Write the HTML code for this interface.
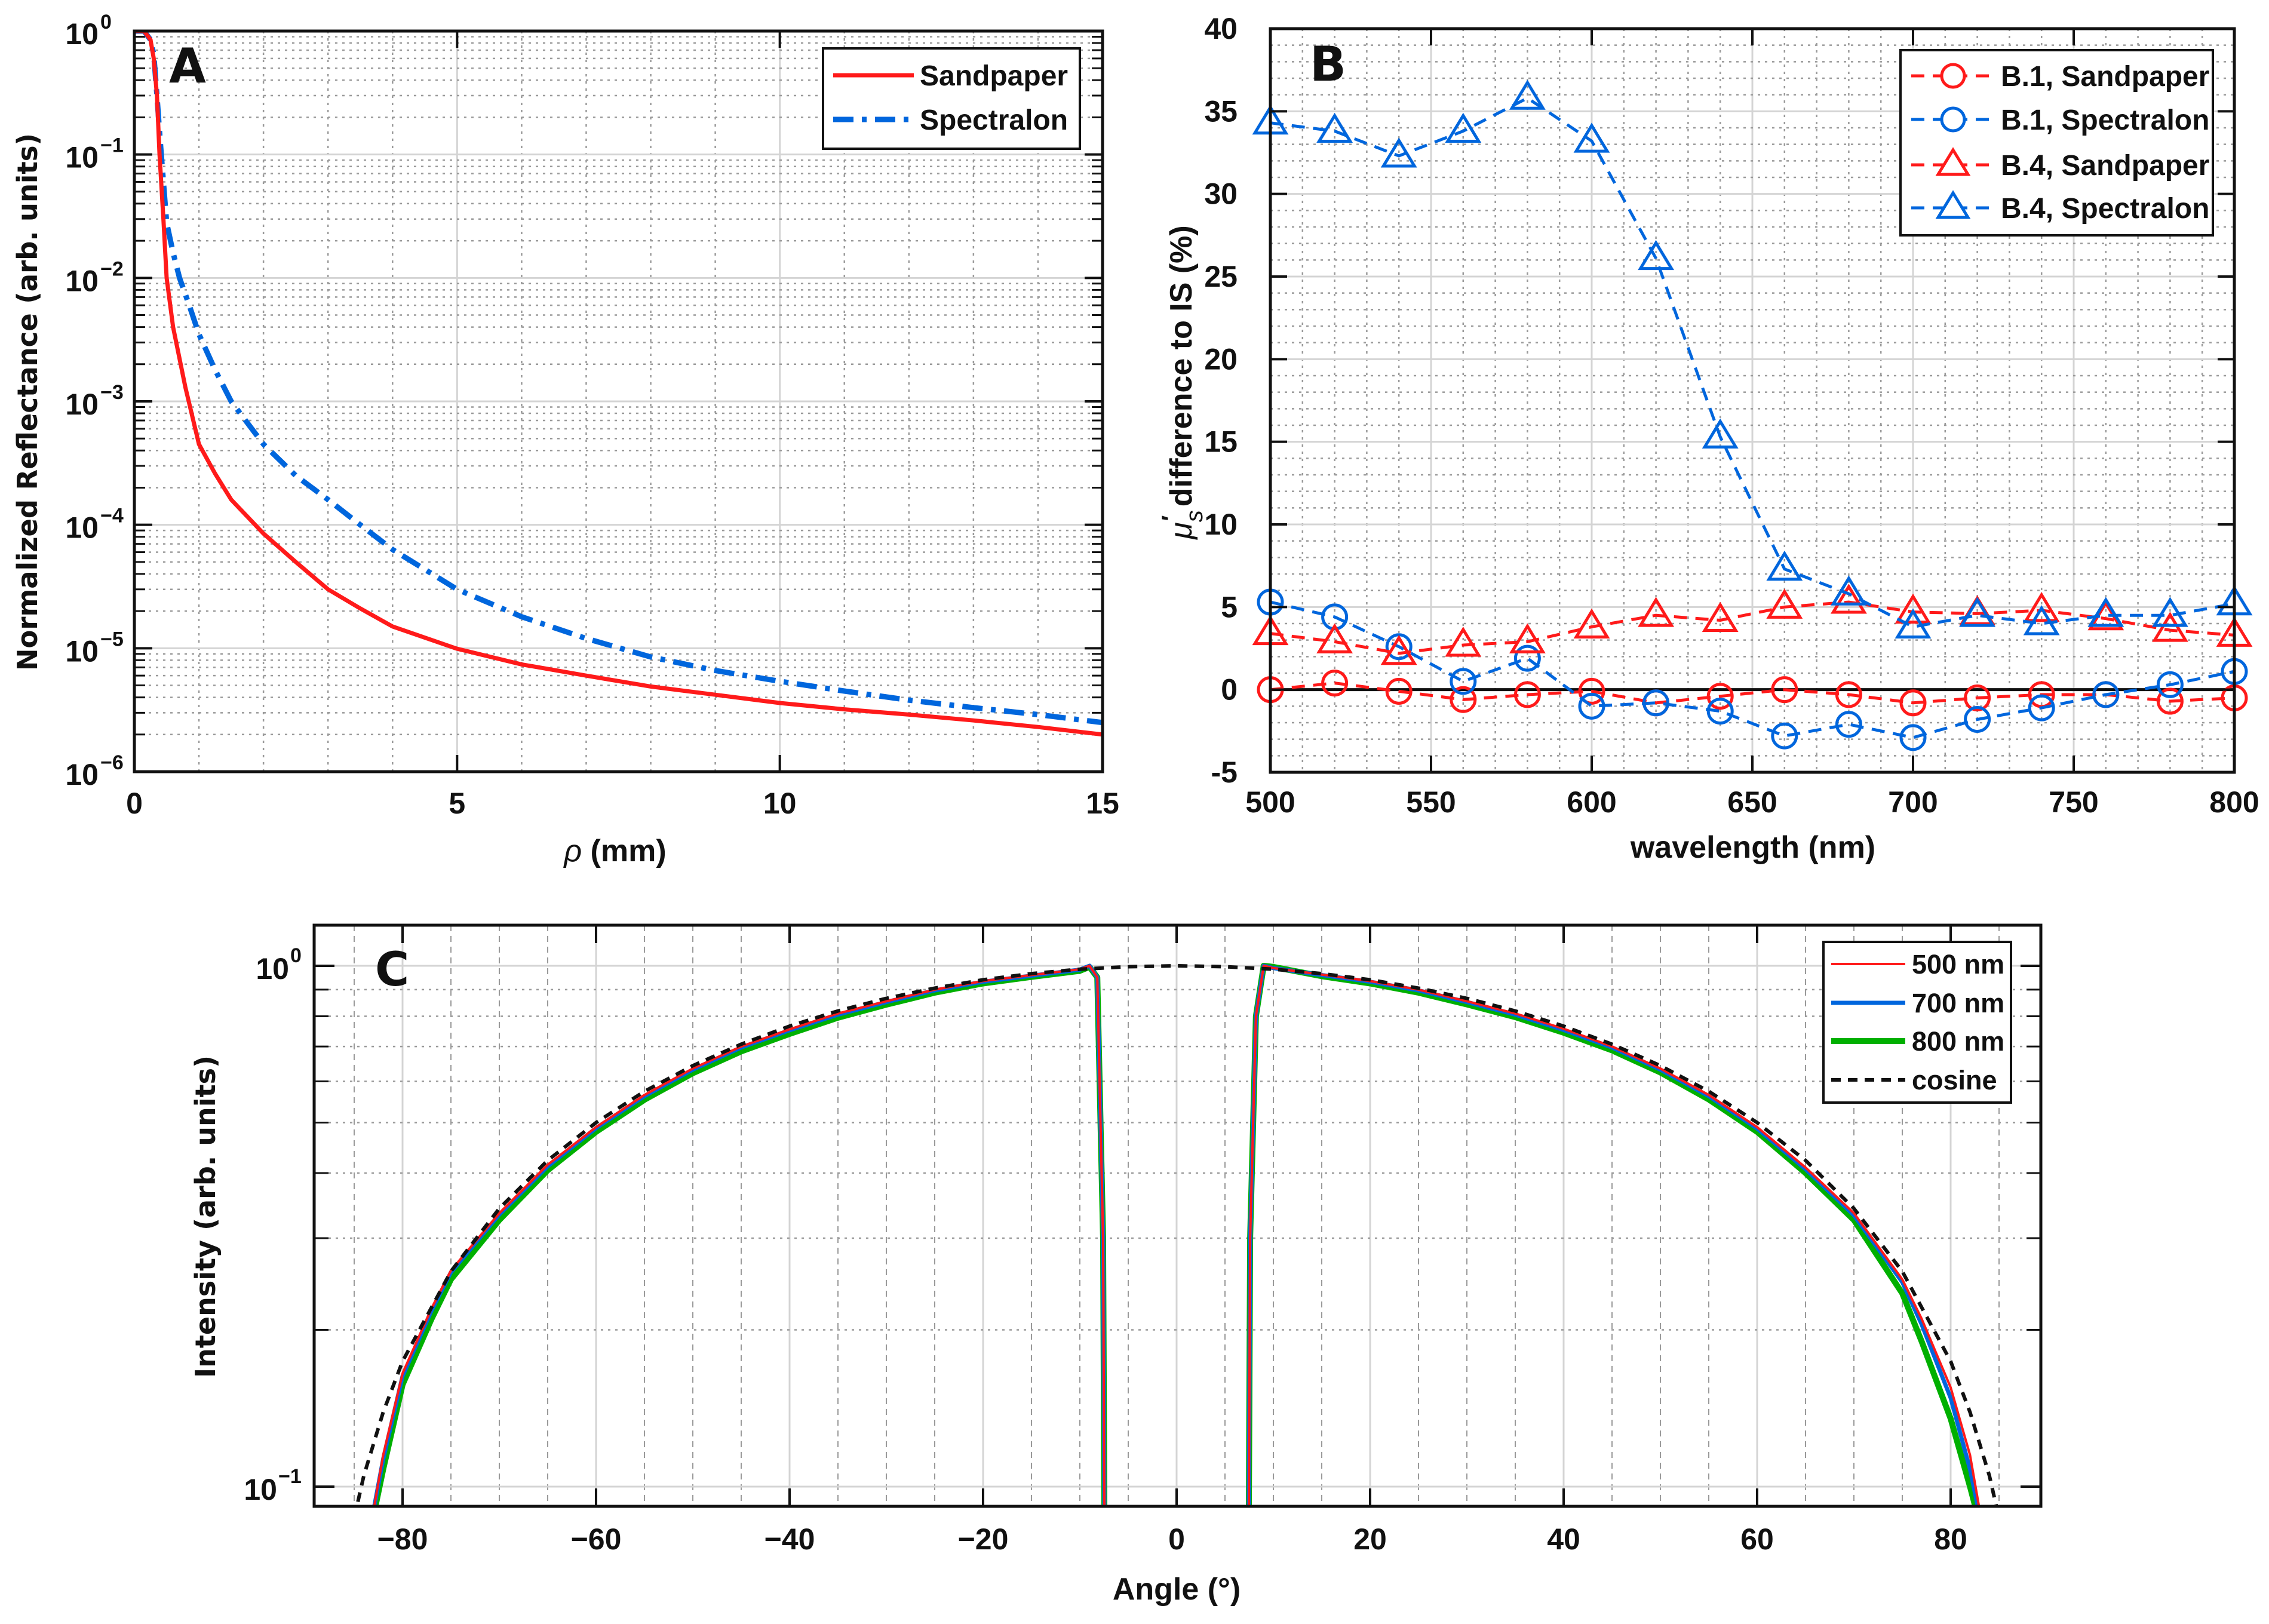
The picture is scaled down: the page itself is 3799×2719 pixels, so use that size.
<!DOCTYPE html>
<html><head><meta charset="utf-8">
<style>
html,body{margin:0;padding:0;background:#fff;}
svg{display:block;}
text{font-family:"Liberation Sans Narrow","Liberation Sans",sans-serif;font-weight:bold;fill:#111;}
.wide{font-family:"DejaVu Sans","Liberation Sans",sans-serif;}
</style></head>
<body>
<svg id="fig" xmlns="http://www.w3.org/2000/svg" width="3799" height="2719" viewBox="0 0 3799 2719">
<rect width="3799" height="2719" fill="#fff"/>
<g id="pA"></g>
<g id="pB"></g>
<g id="pC"></g>
</svg>
<script>
// ---------- Panel A data ----------
const aSandX = [0,0.15,0.25,0.3,0.35,0.39,0.45,0.5,0.6,0.79,1.0,1.25,1.5,2,2.5,3,3.5,4,5,6,7,8,9,10,11,12,13,14,15];
const aSandY = [1,1,0.85,0.6,0.3,0.1,0.03,0.01,0.004,0.0013,0.00045,0.00026,0.00016,0.000085,0.00005,0.00003,0.000021,0.000015,0.0000099,0.0000074,0.000006,0.0000049,0.0000042,0.0000036,0.0000032,0.0000029,0.0000026,0.0000023,0.000002];
const aSpecX = [0,0.15,0.25,0.3,0.35,0.4,0.45,0.5,0.6,0.7,0.85,1.0,1.25,1.5,2,2.5,3,3.5,4,5,6,7,8,9,10,11,12,13,14,15];
const aSpecY = [1,1,0.85,0.65,0.3,0.13,0.06,0.028,0.016,0.01,0.006,0.0035,0.0018,0.001,0.00045,0.00025,0.00016,0.0001,0.000063,0.00003,0.000018,0.000012,0.0000085,0.0000066,0.0000054,0.0000045,0.0000038,0.0000033,0.0000029,0.0000025];
const aXTicks = [0,5,10,15];
const aYTicks = ["0","-1","-2","-3","-4","-5","-6"];
// ---------- Panel B data ----------
const bWave = [500,520,540,560,580,600,620,640,660,680,700,720,740,760,780,800];
const bB1Sand = [0,0.4,-0.1,-0.6,-0.3,-0.1,-0.8,-0.4,0,-0.3,-0.8,-0.5,-0.3,-0.3,-0.7,-0.5];
const bB1Spec = [5.3,4.4,2.6,0.5,1.9,-1.0,-0.8,-1.3,-2.8,-2.1,-2.9,-1.8,-1.1,-0.3,0.3,1.1];
const bB4Sand = [3.4,2.9,2.2,2.7,2.9,3.8,4.5,4.2,5.0,5.3,4.7,4.6,4.8,4.3,3.6,3.3];
const bB4Spec = [34.3,33.8,32.3,33.8,35.8,33.2,26.1,15.3,7.3,5.8,3.8,4.5,4.0,4.5,4.5,5.2];
const bXTicks = [500,550,600,650,700,750,800];
const bYTicks = [-5,0,5,10,15,20,25,30,35,40];
// ---------- Panel C data ----------
const cAngL = [-84,-83,-82,-80,-77,-75,-70,-65,-60,-55,-50,-45,-40,-35,-30,-25,-20,-15,-10,-9,-8.2,-7.6,-7.4];
const c500L = [0.06,0.09,0.115,0.165,0.22,0.26,0.335,0.415,0.49,0.565,0.635,0.7,0.755,0.81,0.855,0.9,0.935,0.96,0.985,1.0,0.95,0.3,0.05];
const c700L = [0.06,0.09,0.113,0.163,0.218,0.258,0.333,0.412,0.488,0.562,0.632,0.697,0.752,0.806,0.852,0.897,0.932,0.957,0.983,1.0,0.95,0.3,0.05];
const c800L = [0.06,0.088,0.108,0.157,0.21,0.25,0.325,0.405,0.48,0.553,0.622,0.685,0.74,0.795,0.842,0.888,0.925,0.952,0.978,0.995,0.95,0.3,0.05];
const cAngR = [7.4,7.6,8.2,9,10,15,20,25,30,35,40,45,50,55,60,65,70,75,77,80,82,83,84];
const c500R = [0.05,0.3,0.8,1.0,0.99,0.962,0.935,0.9,0.855,0.81,0.757,0.7,0.635,0.565,0.49,0.41,0.335,0.25,0.21,0.155,0.115,0.09,0.06];
const c700R = [0.05,0.3,0.8,1.0,0.99,0.96,0.932,0.897,0.852,0.806,0.753,0.697,0.632,0.562,0.487,0.407,0.332,0.247,0.205,0.148,0.108,0.088,0.06];
const c800R = [0.05,0.3,0.8,1.0,0.995,0.955,0.925,0.888,0.843,0.797,0.744,0.688,0.624,0.554,0.48,0.4,0.325,0.235,0.19,0.135,0.1,0.085,0.06];
const cCosAng = [-86,-85,-84,-82,-80,-75,-70,-65,-60,-55,-50,-45,-40,-35,-30,-25,-20,-15,-10,-5,0,5,10,15,20,25,30,35,40,45,50,55,60,65,70,75,80,82,84,85,86];
const cCosVal = [0.07,0.087,0.105,0.139,0.174,0.259,0.342,0.423,0.5,0.574,0.643,0.707,0.766,0.819,0.866,0.906,0.94,0.966,0.985,0.996,1,0.996,0.985,0.966,0.94,0.906,0.866,0.819,0.766,0.707,0.643,0.574,0.5,0.423,0.342,0.259,0.174,0.139,0.105,0.087,0.07];
const cXTicks = [-80,-60,-40,-20,0,20,40,60,80];

const NS = "http://www.w3.org/2000/svg";
function el(parent, tag, attrs, txt){
  const e = document.createElementNS(NS, tag);
  for (const k in attrs) e.setAttribute(k, attrs[k]);
  if (txt !== undefined) e.textContent = txt;
  parent.appendChild(e);
  return e;
}
function pathD(xs, ys, fx, fy){
  let d = "";
  for (let i=0;i<xs.length;i++){ d += (i?"L":"M") + fx(xs[i]).toFixed(1) + "," + fy(ys[i]).toFixed(1); }
  return d;
}
const MAJ = "#d4d4d4", MIN = "#9a9a9a";

// ================= PANEL A =================
(function(){
  const g = document.getElementById('pA');
  const L=225,R=1846,T=52,B=1292;
  const fx = v => L + (v-0)/15*(R-L);
  const fy = v => T + (0 - Math.log10(v))/6*(B-T);
  const clip = el(g,'clipPath',{id:'clipA'}); el(clip,'rect',{x:L,y:T,width:R-L,height:B-T});
  const grid = el(g,'g',{});
  
  
  for (let x=1;x<15;x++){ if(x%5) el(grid,'line',{x1:fx(x),x2:fx(x),y1:T,y2:B,stroke:MIN,'stroke-width':2.5,'stroke-dasharray':'4,8'}); }
  for (let x=5;x<15;x+=5) el(grid,'line',{x1:fx(x),x2:fx(x),y1:T,y2:B,stroke:MAJ,'stroke-width':3});
  for (let d=0; d>-6; d--){
    for (let m=2;m<10;m++){ const v=m*Math.pow(10,d-1); el(grid,'line',{x1:L,x2:R,y1:fy(v),y2:fy(v),stroke:MIN,'stroke-width':2.5,'stroke-dasharray':'4,8'});
      el(grid,'line',{x1:L,x2:L+18,y1:fy(v),y2:fy(v),stroke:'#111','stroke-width':3});
      el(grid,'line',{x1:R,x2:R-18,y1:fy(v),y2:fy(v),stroke:'#111','stroke-width':3}); }
  }
  for (let d=-5; d<0; d++) el(grid,'line',{x1:L,x2:R,y1:fy(Math.pow(10,d)),y2:fy(Math.pow(10,d)),stroke:MAJ,'stroke-width':3});
  const sp = el(g,'path',{d:pathD(aSpecX,aSpecY,fx,fy),fill:'none',stroke:'#0066dd','stroke-width':9,'stroke-dasharray':'34,14,8,14','clip-path':'url(#clipA)'});
  
  
  const sd = el(g,'path',{d:pathD(aSandX,aSandY,fx,fy),fill:'none',stroke:'#ff1a1a','stroke-width':7,'clip-path':'url(#clipA)'});
  
  
  aXTicks.forEach(t=>{
    el(g,'line',{x1:fx(t),x2:fx(t),y1:B,y2:B-28,stroke:'#111','stroke-width':4});
    el(g,'line',{x1:fx(t),x2:fx(t),y1:T,y2:T+28,stroke:'#111','stroke-width':4});
    const tl = el(g,'text',{x:fx(t),y:1362,'font-size':50,'text-anchor':'middle'},String(t));
    
    
  });
  aYTicks.forEach(e=>{
    const y = fy(Math.pow(10,+e));
    el(g,'line',{x1:L,x2:L+30,y1:y,y2:y,stroke:'#111','stroke-width':4});
    el(g,'line',{x1:R,x2:R-30,y1:y,y2:y,stroke:'#111','stroke-width':4});
    const tl = el(g,'text',{x:165,y:y+22,'font-size':50,'text-anchor':'end'},"10");
    
    
    el(g,'text',{x:168,y:y-4,'font-size':34},e==="0"?"0":"\u2212"+e.slice(1));
  });
  el(g,'rect',{x:L,y:T,width:R-L,height:B-T,fill:'none',stroke:'#111','stroke-width':5});
  const lt = el(g,'text',{x:283,y:138,'font-size':80,class:'wide'},"A");
  
  
  const lg = el(g,'g',{});
  
  
  el(lg,'rect',{x:1378,y:81,width:430,height:168,fill:'#fff',stroke:'#111','stroke-width':4});
  el(lg,'line',{x1:1395,x2:1530,y1:126,y2:126,stroke:'#ff1a1a','stroke-width':7});
  el(lg,'text',{x:1540,y:143,'font-size':48},"Sandpaper");
  el(lg,'line',{x1:1395,x2:1530,y1:200,y2:200,stroke:'#0066dd','stroke-width':9,'stroke-dasharray':'34,14,8,14'});
  el(lg,'text',{x:1540,y:217,'font-size':48},"Spectralon");
  const yt = el(g,'text',{x:0,y:0,'font-size':46,class:'wide','text-anchor':'middle',transform:'translate(62,673) rotate(-90)',textLength:900,lengthAdjust:'spacingAndGlyphs'},"Normalized Reflectance (arb. units)");
  
  
  const xt = el(g,'text',{x:1030,y:1442,'font-size':52,'text-anchor':'middle'},"");
  
  
  el(xt,'tspan',{'font-style':'italic','font-weight':'normal'},"\u03C1");
  el(xt,'tspan',{},"\u00A0(mm)");
})();

// ================= PANEL B =================
(function(){
  const g = document.getElementById('pB');
  const L=2127,R=3741,T=48,B=1293;
  const fx = v => L + (v-500)/300*(R-L);
  const fy = v => B - (v+5)/45*(B-T);
  const grid = el(g,'g',{});
  
  
  for (let x=510;x<800;x+=10){ if(x%50) el(grid,'line',{x1:fx(x),x2:fx(x),y1:T,y2:B,stroke:MIN,'stroke-width':2.5,'stroke-dasharray':'4,8'}); }
  for (let x=550;x<800;x+=50) el(grid,'line',{x1:fx(x),x2:fx(x),y1:T,y2:B,stroke:MAJ,'stroke-width':3});
  for (let y=-4;y<40;y++){ if(y%5) el(grid,'line',{x1:L,x2:R,y1:fy(y),y2:fy(y),stroke:MIN,'stroke-width':2.5,'stroke-dasharray':'4,8'}); }
  for (let y=5;y<40;y+=5) el(grid,'line',{x1:L,x2:R,y1:fy(y),y2:fy(y),stroke:MAJ,'stroke-width':3});
  el(g,'line',{x1:L,x2:R,y1:fy(0),y2:fy(0),stroke:'#111','stroke-width':5});
  function series(vals, color, marker, name){
    const s = el(g,'g',{});
    
    
    el(s,'path',{d:pathD(bWave,vals,fx,fy),fill:'none',stroke:color,'stroke-width':5,'stroke-dasharray':'22,14'});
    bWave.forEach((w,i)=>{
      const x=fx(w), y=fy(vals[i]);
      let m;
      if (marker==='o') m = el(s,'circle',{cx:x,cy:y,r:20,fill:'none',stroke:color,'stroke-width':5});
      else m = el(s,'path',{d:`M${x},${y-26}L${x+26},${y+17}L${x-26},${y+17}Z`,fill:'none',stroke:color,'stroke-width':5});
      
      
    });
  }
  series(bB1Sand,'#ff1a1a','o','series-b1-sandpaper');
  series(bB1Spec,'#0066dd','o','series-b1-spectralon');
  series(bB4Sand,'#ff1a1a','t','series-b4-sandpaper');
  series(bB4Spec,'#0066dd','t','series-b4-spectralon');
  bXTicks.forEach(t=>{
    el(g,'line',{x1:fx(t),x2:fx(t),y1:B,y2:B-28,stroke:'#111','stroke-width':4});
    el(g,'line',{x1:fx(t),x2:fx(t),y1:T,y2:T+28,stroke:'#111','stroke-width':4});
    const tl = el(g,'text',{x:fx(t),y:1360,'font-size':50,'text-anchor':'middle'},String(t));
    
    
  });
  bYTicks.forEach(t=>{
    el(g,'line',{x1:L,x2:L+28,y1:fy(t),y2:fy(t),stroke:'#111','stroke-width':4});
    el(g,'line',{x1:R,x2:R-28,y1:fy(t),y2:fy(t),stroke:'#111','stroke-width':4});
    const tl = el(g,'text',{x:2072,y:fy(t)+17,'font-size':50,'text-anchor':'end'},String(t));
    
    
  });
  el(g,'rect',{x:L,y:T,width:R-L,height:B-T,fill:'none',stroke:'#111','stroke-width':5});
  const lt = el(g,'text',{x:2193,y:135,'font-size':80,class:'wide'},"B");
  
  
  const lg = el(g,'g',{});
  
  
  el(lg,'rect',{x:3182,y:84,width:523,height:310,fill:'#fff',stroke:'#111','stroke-width':4});
  const rows=[['#ff1a1a','o','B.1, Sandpaper',127],['#0066dd','o','B.1, Spectralon',200],['#ff1a1a','t','B.4, Sandpaper',276],['#0066dd','t','B.4, Spectralon',348]];
  rows.forEach(r=>{
    const y=r[3];
    el(lg,'line',{x1:3200,x2:3340,y1:y,y2:y,stroke:r[0],'stroke-width':5,'stroke-dasharray':'22,14'});
    if(r[1]==='o') el(lg,'circle',{cx:3270,cy:y,r:19,fill:'#fff',stroke:r[0],'stroke-width':5});
    else el(lg,'path',{d:`M3270,${y-25}L3295,${y+16}L3245,${y+16}Z`,fill:'#fff',stroke:r[0],'stroke-width':5});
    el(lg,'text',{x:3350,y:y+17,'font-size':48},r[2]);
  });
  const yt = el(g,'text',{x:0,y:0,'font-size':52,'text-anchor':'middle',transform:'translate(1995,640) rotate(-90)'},"");
  
  
  el(yt,'tspan',{'font-style':'italic','font-weight':'normal'},"\u03BC");
  el(yt,'tspan',{'font-style':'italic','font-weight':'normal',dy:18,'font-size':40},"s");
  el(yt,'tspan',{dy:-40,'font-size':40,dx:-18},"\u2032");
  el(yt,'tspan',{dy:22},"\u00A0difference to IS (%)");
  const xt = el(g,'text',{x:2935,y:1436,'font-size':52,'text-anchor':'middle'},"wavelength (nm)");
  
  
})();

// ================= PANEL C =================
(function(){
  const g = document.getElementById('pC');
  const L=526,R=3417,T=1549,B=2522;
  const fx = v => 1970 + v*16.2;
  const fy = v => 1617 - Math.log10(v)*872;
  const clip = el(g,'clipPath',{id:'clipC'}); el(clip,'rect',{x:L,y:T,width:R-L,height:B-T});
  const grid = el(g,'g',{});
  
  
  for (let x=-85;x<=85;x+=5){ if(x%20) el(grid,'line',{x1:fx(x),x2:fx(x),y1:T,y2:B,stroke:MIN,'stroke-width':2,'stroke-dasharray':'10,8'}); }
  for (let x=-80;x<=80;x+=20) el(grid,'line',{x1:fx(x),x2:fx(x),y1:T,y2:B,stroke:MAJ,'stroke-width':3});
  for (let m=2;m<10;m++){ const v=m/10; el(grid,'line',{x1:L,x2:R,y1:fy(v),y2:fy(v),stroke:MIN,'stroke-width':2.5,'stroke-dasharray':'4,8'});
    el(grid,'line',{x1:L,x2:L+24,y1:fy(v),y2:fy(v),stroke:'#111','stroke-width':3});
    el(grid,'line',{x1:R,x2:R-24,y1:fy(v),y2:fy(v),stroke:'#111','stroke-width':3}); }
  [1,0.1].forEach(v=>{ el(grid,'line',{x1:L,x2:R,y1:fy(v),y2:fy(v),stroke:MAJ,'stroke-width':3});
    el(grid,'line',{x1:L,x2:L+34,y1:fy(v),y2:fy(v),stroke:'#111','stroke-width':4});
    el(grid,'line',{x1:R,x2:R-34,y1:fy(v),y2:fy(v),stroke:'#111','stroke-width':4}); });
  function line(xs,ys,color,w,name,dash){
    const p = el(g,'path',{d:pathD(xs,ys,fx,fy),fill:'none',stroke:color,'stroke-width':w,'clip-path':'url(#clipC)','stroke-linejoin':'round'});
    if(dash) p.setAttribute('stroke-dasharray',dash);
    
    
  }
  line(cAngL,c800L,'#00b000',10,'curve-800nm-left');
  line(cAngR,c800R,'#00b000',10,'curve-800nm-right');
  line(cAngL,c700L,'#0066dd',7,'curve-700nm-left');
  line(cAngR,c700R,'#0066dd',7,'curve-700nm-right');
  line(cAngL,c500L,'#ff1a1a',4,'curve-500nm-left');
  line(cAngR,c500R,'#ff1a1a',4,'curve-500nm-right');
  line(cCosAng,cCosVal,'#111',6,'cosine-curve','16,12');
  cXTicks.forEach(t=>{
    el(g,'line',{x1:fx(t),x2:fx(t),y1:B,y2:B-30,stroke:'#111','stroke-width':4});
    el(g,'line',{x1:fx(t),x2:fx(t),y1:T,y2:T+30,stroke:'#111','stroke-width':4});
    const tl = el(g,'text',{x:fx(t),y:2594,'font-size':50,'text-anchor':'middle'},t<0?"\u2212"+(-t):String(t));
    
    
  });
  [[1,"0"],[0.1,"\u22121"]].forEach(p=>{
    const y=fy(p[0]);
    const tl = el(g,'text',{x:p[1]==="0"?484:464,y:y+22,'font-size':50,'text-anchor':'end'},"10");
    
    
    el(g,'text',{x:p[1]==="0"?486:466,y:y-6,'font-size':34},p[1]);
  });
  el(g,'rect',{x:L,y:T,width:R-L,height:B-T,fill:'none',stroke:'#111','stroke-width':5});
  const lt = el(g,'text',{x:628,y:1650,'font-size':78,class:'wide'},"C");
  
  
  const lg = el(g,'g',{});
  
  
  el(lg,'rect',{x:3053,y:1577,width:314,height:269,fill:'#fff',stroke:'#111','stroke-width':4});
  [['#ff1a1a',4,null,'500 nm',1614],['#0066dd',7,null,'700 nm',1679],['#00b000',10,null,'800 nm',1743],['#111',6,'16,12','cosine',1808]].forEach(r=>{
    const ln = el(lg,'line',{x1:3066,x2:3190,y1:r[4],y2:r[4],stroke:r[0],'stroke-width':r[1]});
    if(r[2]) ln.setAttribute('stroke-dasharray',r[2]);
    el(lg,'text',{x:3201,y:r[4]+16,'font-size':45},r[3]);
  });
  const yt = el(g,'text',{x:0,y:0,'font-size':46,class:'wide','text-anchor':'middle',transform:'translate(360,2037) rotate(-90)',textLength:540,lengthAdjust:'spacingAndGlyphs'},"Intensity (arb. units)");
  
  
  const xt = el(g,'text',{x:1970,y:2678,'font-size':52,'text-anchor':'middle'},"Angle (\u00B0)");
  
  
})();
</script>
</body></html>
